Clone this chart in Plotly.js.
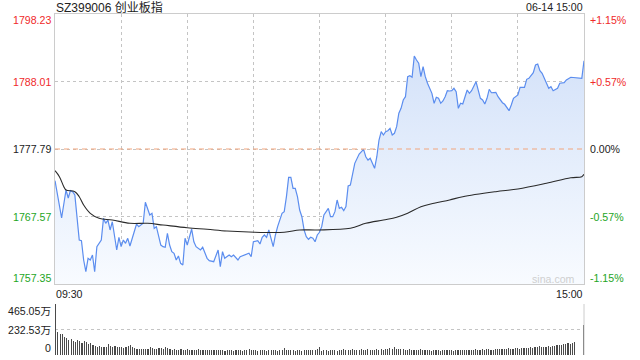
<!DOCTYPE html>
<html>
<head>
<meta charset="utf-8">
<script src="https://cdn.plot.ly/plotly-3.0.1.min.js"></script>
<style>html,body{margin:0;padding:0;background:#fff;}#chart{width:640px;height:360px;}</style>
</head>
<body>
<div id="chart"></div>
<script>
// ---- Data (minute index from 09:30; 0..120 = 09:30-11:30, 121..240 = 13:01-15:00) ----
const title = "SZ399006 创业板指";
const stamp = "06-14 15:00";
const prevClose = 1777.79;
const priceTicks = [1798.23, 1788.01, 1777.79, 1767.57, 1757.35];
const pctTicks = ["+1.15%", "+0.57%", "0.00%", "-0.57%", "-1.15%"];
const volTicks = [465.05, 232.53, 0];
const volTickLabels = ["465.05万", "232.53万", "0"];
const timeLabels = ["09:30", "15:00"];

const priceMin = [0,1,3,5,6,7,8,9,10,11,
  12,13,14,15,16,17,18,19,21,22,
  23,24,25,26,28,29,30,31,32,33,
  34,35,36,37,38,40,41,42,43,44,
  45,46,47,48,49,50,51,52,53,54,
  55,56,57,58,59,60,62,63,64,66,
  67,69,70,72,74,75,76,77,79,80,
  81,83,84,86,88,89,90,92,93,94,
  95,96,97,98,99,100,101,103,104,105,
  106,107,108,109,110,111,112,113,114,115,
  116,117,118,119,120,121,122,124,125,126,
  127,128,129,130,131,132,133,134,135,136,
  138,139,140,141,142,143,144,145,146,147,
  148,149,150,151,152,153,154,155,156,157,
  158,159,160,161,162,163,164,165,166,167,
  168,169,171,172,173,174,175,176,177,178,
  179,180,181,182,183,184,185,186,187,188,
  189,191,192,193,194,195,196,197,198,200,
  201,203,204,206,207,208,210,211,213,214,
  215,216,217,218,219,220,221,223,224,225,
  226,228,229,231,232,234,236,239,240];
const priceVal = [1773.00,1771.13,1767.34,1771.58,1770.37,1771.48,1771.33,1770.83,1767.80,1764.01,
  1763.91,1760.98,1759.21,1761.24,1760.98,1761.74,1759.21,1763.00,1764.01,1767.30,
  1766.54,1767.04,1765.53,1766.78,1762.50,1764.42,1763.00,1764.01,1763.51,1764.27,
  1763.10,1764.27,1765.27,1766.43,1766.03,1766.54,1769.72,1768.81,1767.80,1768.05,
  1765.78,1766.03,1764.77,1763.25,1763.00,1762.91,1765.03,1763.25,1762.24,1762.00,
  1760.98,1761.59,1760.48,1760.23,1764.27,1763.25,1765.68,1763.75,1763.00,1762.50,
  1762.91,1761.24,1760.88,1760.73,1762.50,1759.97,1762.24,1761.24,1761.74,1761.48,
  1761.74,1760.98,1761.48,1761.74,1762.00,1761.48,1763.75,1763.91,1763.41,1764.42,
  1764.77,1764.42,1765.53,1764.27,1763.00,1764.77,1766.03,1768.05,1768.30,1770.57,
  1773.50,1773.50,1771.84,1771.84,1770.57,1768.55,1767.54,1765.53,1764.51,1764.12,
  1764.42,1764.27,1763.75,1764.77,1765.18,1766.03,1767.80,1768.81,1767.54,1767.54,
  1768.30,1770.07,1768.81,1768.96,1768.45,1769.06,1772.19,1772.34,1773.85,1775.62,
  1777.03,1777.38,1777.74,1776.62,1776.12,1776.38,1775.62,1774.87,1776.62,1779.15,
  1780.41,1779.91,1780.41,1780.56,1780.92,1779.91,1780.17,1781.17,1783.20,1783.95,
  1785.21,1785.71,1788.74,1788.89,1788.65,1791.87,1791.27,1790.77,1788.74,1790.25,
  1788.74,1787.74,1786.22,1784.71,1785.62,1785.47,1784.71,1785.06,1785.71,1786.62,
  1786.57,1786.62,1786.98,1786.47,1783.95,1784.71,1784.60,1785.71,1786.72,1786.22,
  1786.62,1787.98,1786.72,1785.47,1785.21,1784.60,1785.47,1786.83,1786.31,1786.37,
  1785.71,1784.80,1784.56,1783.59,1784.45,1785.47,1785.97,1787.13,1787.13,1788.34,
  1788.49,1788.99,1789.34,1790.51,1790.66,1789.65,1789.25,1787.74,1786.98,1787.22,
  1786.62,1786.98,1787.74,1787.83,1788.24,1788.65,1788.59,1788.49,1791.16];

const avgMin = [0,2,4,5,9,11,13,16,20,26,34,42,49,60,69,78,88,104,111,119,
  134,141,149,155,160,166,172,179,185,200,210,223,234,239,240];
const avgVal = [1774.50,1773.60,1772.08,1771.58,1771.33,1770.57,1769.31,1768.05,1767.30,1767.04,
  1766.54,1766.54,1766.28,1765.87,1765.63,1765.37,1765.22,1765.18,1765.53,1765.53,
  1765.78,1766.54,1767.04,1767.45,1768.05,1769.05,1769.57,1770.07,1770.57,1771.33,
  1771.73,1772.60,1773.44,1773.60,1773.96];

// volume in 万, one per minute 0..240
const volume = [465,
  214,193,190,162,153,138,144,128,122,
  138,131,113,125,122,101,107,89,83,76,
  83,76,70,76,98,83,70,83,70,70,
  76,61,70,83,89,70,64,52,55,55,
  52,55,52,70,61,58,52,64,61,55,
  70,61,55,49,58,46,43,55,49,46,
  52,46,49,46,43,52,46,49,46,43,
  46,43,46,49,43,46,43,40,46,43,
  46,40,43,46,43,40,46,43,52,46,
  43,46,40,43,49,43,40,46,43,46,
  43,40,46,43,64,49,43,46,43,40,
  46,43,40,46,43,46,49,43,46,55,
  70,
  40,43,46,40,43,46,43,40,49,46,
  52,46,43,49,52,46,43,46,55,49,
  46,52,46,43,49,55,46,52,49,58,
  55,61,55,70,58,52,55,52,46,49,
  52,46,43,49,46,52,46,43,46,43,
  40,43,46,43,40,46,43,49,46,43,
  40,46,43,46,49,43,46,43,49,46,
  52,49,46,52,49,55,52,46,49,52,
  58,55,52,58,55,61,58,55,61,64,
  58,61,64,67,61,70,64,70,73,79,
  70,76,73,79,76,83,86,92,89,95,
  98,104,110,101,113,122,4,3,3,275];
const volMin = volume.map((_, i) => i);

// ---- Styling ----
const FONT = "Liberation Sans, Arial, Noto Sans CJK SC, sans-serif";
const RED = "#f02a2a", GREEN = "#1ea51e", DARK = "#222";
const GRID = "#c4c4c4";
const colorFor = v => v > prevClose + 1e-6 ? RED : (v < prevClose - 1e-6 ? GREEN : DARK);

const traces = [
  {x: priceMin, y: priceVal, type: "scatter", mode: "lines",
   line: {color: "#5b8def", width: 1.2},
   fill: "tozeroy",
   fillgradient: {type: "vertical", start: priceTicks[4], stop: 1792,
     colorscale: [[0, "rgba(248,251,255,1)"], [1, "rgba(212,226,249,1)"]]},
   xaxis: "x", yaxis: "y", hoverinfo: "skip"},
  {x: avgMin, y: avgVal, type: "scatter", mode: "lines",
   line: {color: "#2a2a2a", width: 1.1, shape: "spline"},
   xaxis: "x", yaxis: "y", hoverinfo: "skip"},
  {x: volMin, y: volume, type: "bar", width: 0.5,
   marker: {color: "#4a4a4a", line: {width: 0}},
   xaxis: "x2", yaxis: "y2", hoverinfo: "skip"}
];

const mainDomain = [(355 - 284) / 341, 1];
const volDomain = [0, (355 - 304) / 341];

const annotations = [];
priceTicks.forEach((v, k) => {
  const shift = k === 0 ? -6 : (k === priceTicks.length - 1 ? 6 : 0);
  annotations.push({xref: "paper", yref: "y", x: 0, y: v, text: v.toFixed(2),
    xanchor: "right", yanchor: "middle", xshift: -2, yshift: shift, showarrow: false,
    font: {family: FONT, size: 10.6, color: colorFor(v)}});
  annotations.push({xref: "paper", yref: "y", x: 1, y: v, text: pctTicks[k],
    xanchor: "left", yanchor: "middle", xshift: 4, yshift: shift, showarrow: false,
    font: {family: FONT, size: 10.6, color: colorFor(v)}});
});
volTicks.forEach((v, k) => {
  const shift = k === 0 ? -7 : (k === volTicks.length - 1 ? 7 : 0);
  annotations.push({xref: "paper", yref: "y2", x: 0, y: v, text: volTickLabels[k],
    xanchor: "right", yanchor: "middle", xshift: -2, yshift: shift, showarrow: false,
    font: {family: FONT, size: 10.6, color: DARK}});
});
annotations.push({xref: "paper", yref: "paper", x: 0, y: (355 - 294) / 341, text: timeLabels[0],
  xanchor: "left", yanchor: "middle", xshift: -1, showarrow: false, font: {family: FONT, size: 10.6, color: DARK}});
annotations.push({xref: "paper", yref: "paper", x: 1, y: (355 - 294) / 341, text: timeLabels[1],
  xanchor: "right", yanchor: "middle", xshift: 1, showarrow: false, font: {family: FONT, size: 10.6, color: DARK}});
annotations.push({xref: "paper", yref: "paper", x: 0, y: 1, text: title,
  xanchor: "left", yanchor: "middle", xshift: -1, yshift: 7, showarrow: false, font: {family: FONT, size: 12, color: DARK}});
annotations.push({xref: "paper", yref: "paper", x: 1, y: 1, text: stamp,
  xanchor: "right", yanchor: "middle", xshift: 1, yshift: 7, showarrow: false, font: {family: FONT, size: 10.6, color: DARK}});
annotations.push({xref: "paper", yref: "y", x: 0.943, y: priceTicks[4], text: "sina.com",
  xanchor: "center", yanchor: "middle", yshift: 5, showarrow: false, font: {family: FONT, size: 10.6, color: "#cfcfcf"}});

const shapes = [
  {type: "line", xref: "x", yref: "y", x0: 0, x1: 240, y0: prevClose, y1: prevClose,
   line: {color: "#f2a57c", width: 1, dash: "5px,4px"}},
  {type: "line", xref: "paper", yref: "y2", x0: 1, x1: 1, y0: 0, y1: volTicks[0],
   line: {color: "#cccccc", width: 1}}
];

const layout = {
  width: 640, height: 360,
  margin: {l: 55, r: 56, t: 14, b: 5, pad: 0},
  paper_bgcolor: "#fff", plot_bgcolor: "#fff",
  showlegend: false,
  font: {family: FONT, size: 10.6, color: DARK},
  xaxis: {domain: [0, 1], range: [0, 240], anchor: "y",
    tickvals: [30, 60, 90, 120, 150, 180, 210], showticklabels: false, ticks: "",
    showgrid: true, gridcolor: GRID, griddash: "dot", gridwidth: 1,
    showline: true, linecolor: "#cccccc", linewidth: 1, mirror: true, zeroline: false, fixedrange: true},
  yaxis: {domain: mainDomain, range: [priceTicks[4], priceTicks[0]], anchor: "x",
    tickvals: [priceTicks[1], priceTicks[2], priceTicks[3]], showticklabels: false, ticks: "",
    showgrid: true, gridcolor: GRID, griddash: "dot", gridwidth: 1,
    showline: true, linecolor: "#cccccc", linewidth: 1, mirror: true, zeroline: false, fixedrange: true},
  xaxis2: {domain: [0, 1], range: [-0.3, 240.3], anchor: "y2", showticklabels: false, ticks: "",
    showgrid: false, showline: false, zeroline: false, fixedrange: true},
  yaxis2: {domain: volDomain, range: [0, volTicks[0]], anchor: "x2",
    tickvals: [volTicks[0], volTicks[1]], showticklabels: false, ticks: "",
    showgrid: true, gridcolor: GRID, griddash: "dot", gridwidth: 1,
    showline: false, zeroline: false, fixedrange: true},
  bargap: 0,
  annotations: annotations,
  shapes: shapes
};

Plotly.newPlot("chart", traces, layout, {staticPlot: true, displayModeBar: false});
</script>
</body>
</html>
